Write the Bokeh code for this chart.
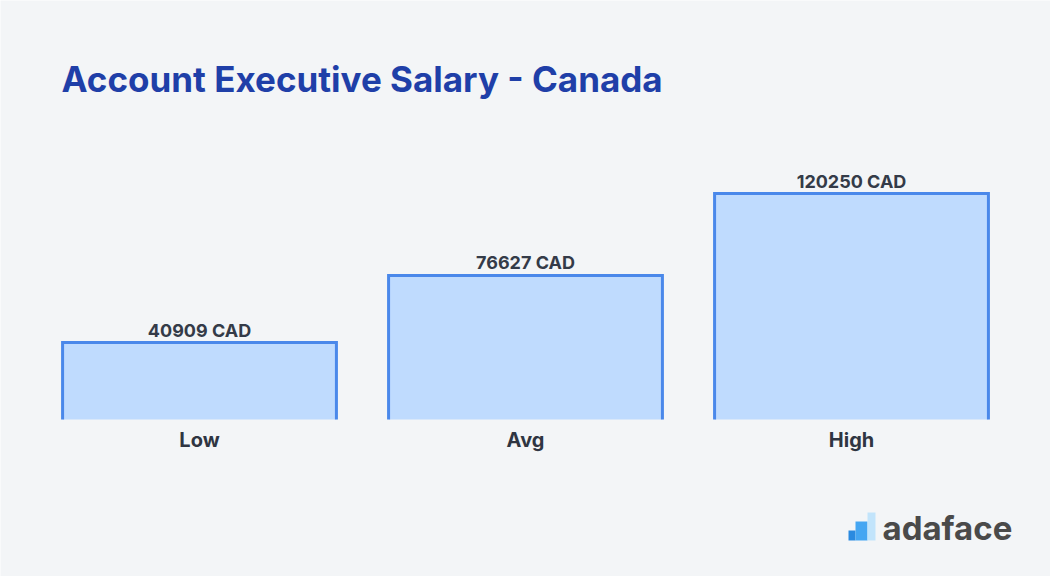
from bokeh.plotting import figure
from bokeh.models import Range1d, Label, ColumnDataSource
from bokeh.embed import file_html
from bokeh.resources import INLINE
from bokeh.core.properties import value

categories = ["Low", "Avg", "High"]
salaries = [40909, 76627, 120250]
currency = "CAD"
title_text = "Account Executive Salary - Canada"

W, H = 1050, 576
BG = "#f3f5f7"
S = 532.08          # CAD per pixel
PX = 326.0          # pixels per category
X0 = 199.0          # pixel x of first category center
BASE = 419.0        # pixel y (from top) of zero line

def dx(px):
    return (px - X0) / PX

def dy(py):
    return (BASE - py) * S

p = figure(width=W, height=H, output_backend="svg", toolbar_location=None,
           x_range=Range1d(dx(0), dx(W)), y_range=Range1d(dy(H), dy(0)),
           min_border=0, background_fill_color=BG, border_fill_color=BG,
           outline_line_color=None)
p.axis.visible = False
p.grid.visible = False

xs = list(range(len(categories)))
bw = 0.84
src = ColumnDataSource(dict(
    x=xs, top=salaries, cat=categories,
    lab=[f"{v} {currency}" for v in salaries],
    xs=[[x - bw / 2, x - bw / 2, x + bw / 2, x + bw / 2] for x in xs],
    ys=[[0, v, v, 0] for v in salaries],
))

p.vbar(x="x", top="top", bottom=0, width=bw, source=src,
       fill_color="#bfdbfe", line_color=None)
p.multi_line(xs="xs", ys="ys", source=src, line_color="#4a88ea", line_width=3,
             line_join="miter")

p.text(x="x", y="top", text="lab", source=src, text_align="center",
       text_baseline="bottom", y_offset=-2, text_font=value("Inter"),
       text_font_style="bold", text_font_size="18px", text_color="#343b48")
p.text(x="x", y=0, text="cat", source=src, text_align="center",
       text_baseline="alphabetic", y_offset=20, text_font=value("Inter"),
       text_font_style="bold", text_font_size="20px", text_color="#2f3542")

p.add_layout(Label(x=61, y=H - 78, x_units="screen", y_units="screen",
                   text=title_text, text_font="Inter", text_font_style="bold",
                   text_font_size="35px", text_color="#1f3fa8",
                   text_baseline="alphabetic"))

# logo
p.quad(left=[dx(848), dx(855), dx(867)], right=[dx(855), dx(867), dx(875)],
       bottom=[dy(540), dy(540), dy(540)], top=[dy(530), dy(521), dy(512)],
       fill_color=["#2a8ae0", "#45a6f2", "#c2e4fb"], line_color=None)
p.add_layout(Label(x=882, y=H - 527, x_units="screen", y_units="screen",
                   text="adaface", text_font="Inter", text_font_style="bold",
                   text_font_size="33px", text_color="#4a4a4a",
                   text_baseline="alphabetic"))

open("out.html", "w").write(file_html(p, INLINE))
